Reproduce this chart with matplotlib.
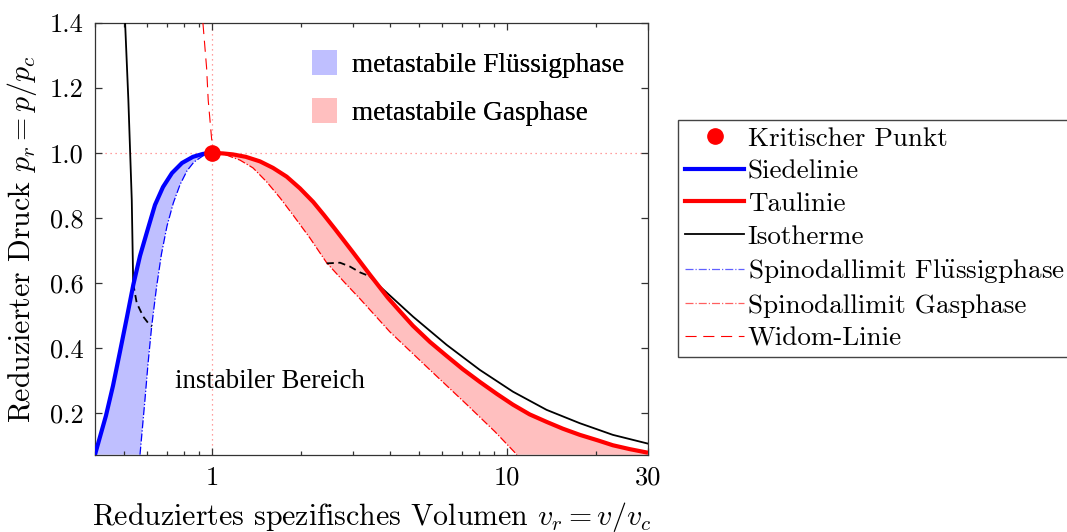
import numpy as np
import matplotlib
matplotlib.use("Agg")
import matplotlib.pyplot as plt
from matplotlib.lines import Line2D
from matplotlib.patches import Patch
from matplotlib.ticker import FixedLocator, FixedFormatter, NullFormatter

plt.rcParams['font.family'] = ['cmr10', 'DejaVu Serif']
plt.rcParams['mathtext.fontset'] = 'cm'
plt.rcParams['axes.formatter.use_mathtext'] = True

# ---------------- data ----------------
# Siedelinie (saturated liquid)
sied_v = [0.400, 0.4159, 0.4357, 0.4603, 0.4861, 0.5134, 0.5394, 0.5684, 0.6003, 0.6389,
          0.6801, 0.7295, 0.7888, 0.8593, 0.9292, 1.0]
sied_p = [0.071, 0.126, 0.191, 0.283, 0.388, 0.495, 0.594, 0.683, 0.757, 0.840,
          0.895, 0.938, 0.969, 0.988, 0.997, 1.0]

# Taulinie (saturated vapour)
tau_v = [1.0, 1.086, 1.174, 1.298, 1.450, 1.605, 1.786, 1.981, 2.198, 2.389, 2.604, 2.997,
         3.422, 3.937, 4.338, 4.786, 5.468, 6.228, 7.07, 8.073, 9.22, 10.45, 11.91, 13.59,
         15.43, 17.62, 20.28, 22.8, 26.04, 30.0]
tau_p = [1.0, 0.9985, 0.9954, 0.988, 0.974, 0.954, 0.927, 0.891, 0.849, 0.809, 0.766, 0.694,
         0.625, 0.554, 0.511, 0.468, 0.418, 0.375, 0.334, 0.295, 0.258, 0.225, 0.195, 0.172,
         0.151, 0.132, 0.115, 0.100, 0.088, 0.077]

# Spinodal liquid
spl_v = [0.5684, 0.5908, 0.6047, 0.6226, 0.6463, 0.6721, 0.7018, 0.7373, 0.7767, 0.8203,
         0.8661, 0.9292, 1.0]
spl_p = [0.071, 0.240, 0.348, 0.466, 0.585, 0.689, 0.775, 0.846, 0.902, 0.945,
         0.972, 0.991, 1.0]

# Spinodal gas
spg_v = [1.0, 1.112, 1.240, 1.373, 1.528, 1.695, 1.880, 2.142, 2.440, 2.815, 3.165, 4.000,
         5.468, 7.296, 9.078, 10.78]
spg_p = [1.0, 0.994, 0.978, 0.954, 0.911, 0.862, 0.808, 0.738, 0.662, 0.600, 0.551, 0.449,
         0.332, 0.225, 0.142, 0.071]

# Isotherm pieces
iso_liq_v = [0.506, 0.519, 0.533, 0.539]
iso_liq_p = [1.400, 1.163, 0.855, 0.598]
iso_mliq_v = [0.539, 0.554, 0.583, 0.605, 0.624]
iso_mliq_p = [0.598, 0.538, 0.496, 0.477, 0.466]
iso_mgas_v = [2.44, 2.71, 2.93, 3.17, 3.42]
iso_mgas_p = [0.660, 0.662, 0.650, 0.632, 0.620]
iso_gas_v = [3.42, 3.70, 4.79, 6.23, 8.07, 10.45, 13.59, 17.6, 22.8, 30.0]
iso_gas_p = [0.620, 0.589, 0.496, 0.409, 0.332, 0.265, 0.209, 0.168, 0.132, 0.105]

# Widom line
widom_v = [0.929, 0.956, 0.968, 0.995, 1.0]
widom_p = [1.400, 1.262, 1.163, 1.040, 1.0]

crit_v, crit_p = 1.0, 1.0

x_ticks = [1, 10, 30]
x_ticklabels = ['1', '10', '30']
y_ticks = [0.2, 0.4, 0.6, 0.8, 1.0, 1.2, 1.4]
xlim = (0.4, 30)
ylim = (0.07, 1.4)

# ---------------- figure ----------------
W, H = 1067, 532
fig = plt.figure(figsize=(W / 100, H / 100), dpi=100)
ax = fig.add_axes([95 / W, 1 - 455 / H, (648 - 95) / W, (455 - 23) / H])
ax.set_xscale('log')
ax.set_xlim(*xlim)
ax.set_ylim(*ylim)

blue = '#0000ff'
red = '#ff0000'
fill_blue = '#bfbfff'
fill_red = '#ffbfbf'

# fills
ax.fill(sied_v + spl_v[::-1], sied_p + spl_p[::-1], color=fill_blue, lw=0, zorder=1)
ax.fill(tau_v + [xlim[1]] + spg_v[::-1], tau_p + [ylim[0]] + spg_p[::-1],
        color=fill_red, lw=0, zorder=1)

# reference dotted lines
ax.axhline(crit_p, color='#ff8080', lw=0.9, ls=(0, (1, 3)), zorder=1.5)
ax.axvline(crit_v, color='#ff8080', lw=0.9, ls=(0, (1, 3)), zorder=1.5)

# spinodals
ax.plot(spl_v, spl_p, color=blue, lw=0.9, ls='-.', zorder=2)
ax.plot(spg_v, spg_p, color=red, lw=0.9, ls='-.', zorder=2)

# isotherm
ax.plot(iso_liq_v, iso_liq_p, color='k', lw=1.3, zorder=3)
ax.plot(iso_mliq_v, iso_mliq_p, color='k', lw=1.3, ls=(0, (4, 2.5)), zorder=3)
ax.plot(iso_mgas_v, iso_mgas_p, color='k', lw=1.3, ls=(0, (4, 2.5)), zorder=3)
ax.plot(iso_gas_v, iso_gas_p, color='k', lw=1.3, zorder=3)

# saturation lines
ax.plot(sied_v, sied_p, color=blue, lw=3, zorder=4, solid_capstyle='butt')
ax.plot(tau_v, tau_p, color=red, lw=3, zorder=4, solid_capstyle='butt')

# Widom line
ax.plot(widom_v, widom_p, color=red, lw=0.8, ls=(0, (10, 6)), zorder=4)

# critical point
ax.plot([crit_v], [crit_p], 'o', color=red, ms=11, zorder=5)

# ticks
ax.xaxis.set_major_locator(FixedLocator(x_ticks))
ax.xaxis.set_major_formatter(FixedFormatter(x_ticklabels))
ax.xaxis.set_minor_formatter(NullFormatter())
ax.set_yticks(y_ticks)
ax.set_yticklabels([f'{v:.1f}' for v in y_ticks])
ax.tick_params(which='both', direction='in', top=True, right=True, colors='#333333',
               labelcolor='black', labelsize=19, width=0.9)
ax.tick_params(which='major', length=5, pad=8)
ax.tick_params(which='minor', length=3)
for s in ax.spines.values():
    s.set_color('#333333')
    s.set_linewidth(0.9)

ax.set_xlabel(r'Reduziertes spezifisches Volumen $v_r = v/v_c$', fontsize=21.5, labelpad=7)
ax.set_ylabel(r'Reduzierter Druck $p_r = p/p_c$', fontsize=21.5, labelpad=8)

# text in axes
ax.text((270 - 95) / 553, (455 - 382) / 432, 'instabiler Bereich', transform=ax.transAxes,
        fontsize=19.4, family='Liberation Serif', ha='center', va='center')

# legend for the metastable areas
fill_handles = [Patch(color=fill_blue, lw=0), Patch(color=fill_red, lw=0)]
leg1 = ax.legend(fill_handles, ['metastabile Flüssigphase', 'metastabile Gasphase'],
                 loc='upper right', frameon=False,
                 bbox_to_anchor=(624 / W, 1 - 50 / H), bbox_transform=fig.transFigure,
                 prop={'family': 'Liberation Serif', 'size': 19.6},
                 handlelength=0.92, handleheight=1.03, handletextpad=0.55,
                 labelspacing=0.76, borderaxespad=0, borderpad=0)
ax.add_artist(leg1)

# outside legend
handles = [
    Line2D([], [], ls='none', marker='o', color=red, ms=11),
    Line2D([], [], color=blue, lw=3),
    Line2D([], [], color=red, lw=3),
    Line2D([], [], color='k', lw=1.3),
    Line2D([], [], color='#6060ff', lw=0.9, ls='-.'),
    Line2D([], [], color='#ff6060', lw=0.9, ls='-.'),
    Line2D([], [], color=red, lw=0.8, ls=(0, (10, 6))),
]
labels = ['Kritischer Punkt', 'Siedelinie', 'Taulinie', 'Isotherme',
          r'Spinodallimit Fl$\ddot{\mathrm{u}}$ssigphase', 'Spinodallimit Gasphase', 'Widom-Linie']
leg2 = fig.legend(handles, labels, loc='upper left', bbox_to_anchor=(678 / W, 1 - 120 / H),
                  borderaxespad=0, fancybox=False, framealpha=1, edgecolor='#444444',
                  fontsize=19.5, handlelength=2.2, handletextpad=0.12, borderpad=0.25,
                  labelspacing=0.32)
leg2.get_frame().set_linewidth(1.0)

fig.savefig('out.png', dpi=100)
